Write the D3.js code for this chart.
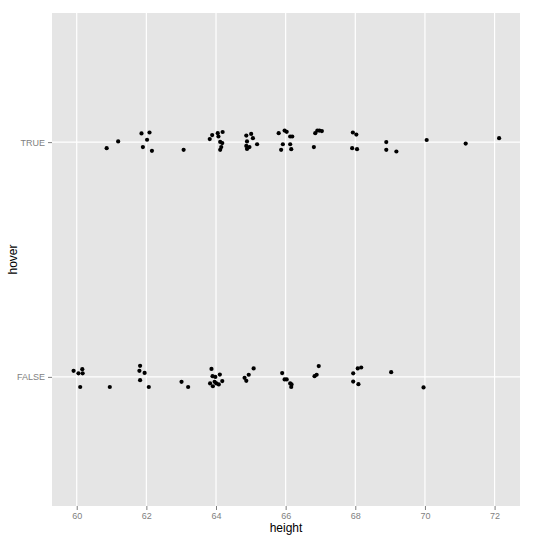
<!DOCTYPE html>
<html>
<head>
<meta charset="utf-8">
<script src="https://cdn.jsdelivr.net/npm/d3@7"></script>
<style>
  body { margin: 0; background: #fff; }
  text { font-family: "Liberation Sans", Arial, sans-serif; }
</style>
</head>
<body>
<div id="chart"></div>
<script>
// Jittered strip plot: height vs hover (TRUE/FALSE), ggplot2 grey theme.
// Jitter values are offsets in discrete-axis units.

const HOVER_LEVELS = ['FALSE', 'TRUE'];
const X_TICKS = [60, 62, 64, 66, 68, 70, 72];

const trueHeight = [
  60.86, 61.19, 61.86, 62.09, 62.02, 61.90, 62.16, 63.07, 63.82, 63.89,
  64.05, 64.19, 64.07, 64.12, 64.18, 64.15, 64.12, 64.87, 65.01, 65.06,
  64.89, 64.87, 64.96, 64.89, 65.18, 65.80, 65.97, 66.03, 66.13, 66.19,
  65.92, 65.87, 66.13, 66.16, 66.85, 66.91, 66.97, 67.04, 66.81, 67.93,
  68.03, 67.91, 68.05, 68.89, 68.89, 69.18, 70.05, 71.17, 72.13,
];
const trueJitter = [
  -0.026, 0.003, 0.037, 0.041, 0.010, -0.021, -0.037, -0.033, 0.013, 0.030,
  0.038, 0.043, 0.024, 0.001, -0.004, -0.021, -0.033, 0.028, 0.035, 0.017,
  0.003, -0.016, -0.021, -0.029, -0.009, 0.038, 0.049, 0.044, 0.024, 0.024,
  -0.009, -0.033, -0.009, -0.030, 0.038, 0.049, 0.049, 0.047, -0.021, 0.041,
  0.032, -0.026, -0.030, 0.000, -0.033, -0.040, 0.009, -0.006, 0.017,
];

const falseHeight = [
  59.91, 60.05, 60.16, 60.17, 60.10, 60.95, 61.82, 61.80, 61.95, 61.82,
  62.07, 63.01, 63.20, 63.87, 63.90, 63.98, 64.11, 63.83, 63.91, 64.01,
  64.08, 64.18, 63.96, 64.82, 64.94, 64.87, 65.08, 65.90, 65.97, 66.03,
  66.13, 66.16, 66.17, 66.95, 66.83, 66.89, 67.94, 68.07, 68.17, 67.94,
  68.09, 69.03, 69.96,
];
const falseJitter = [
  0.026, 0.015, 0.033, 0.015, -0.043, -0.043, 0.047, 0.026, 0.017, -0.014,
  -0.043, -0.021, -0.043, 0.034, 0.003, 0.000, 0.010, -0.028, -0.040, -0.028,
  -0.032, -0.018, -0.021, -0.004, 0.009, -0.017, 0.036, 0.016, -0.011, -0.011,
  -0.028, -0.043, -0.032, 0.046, 0.003, 0.009, 0.015, 0.036, 0.040, -0.020,
  -0.031, 0.020, -0.045,
];

const W = 540, H = 540;
const margin = { top: 13, right: 20, bottom: 34, left: 52 };
const innerW = W - margin.left - margin.right;
const innerH = H - margin.top - margin.bottom;

const svg = d3.select('#chart').append('svg').attr('width', W).attr('height', H);
const g = svg.append('g').attr('transform', `translate(${margin.left},${margin.top})`);

const x = d3.scaleLinear().domain([59.29, 72.73]).range([0, innerW]);
// discrete axis: level index 1..2, jitter added as fractional offset
const y = d3.scaleLinear().domain([0.45, 2.55]).range([innerH, 0]);
const levelPos = (lvl) => HOVER_LEVELS.indexOf(lvl) + 1;

const points = [
  ...trueHeight.map((h, i) => ({ h, yv: levelPos('TRUE') + trueJitter[i] })),
  ...falseHeight.map((h, i) => ({ h, yv: levelPos('FALSE') + falseJitter[i] })),
];

g.append('rect').attr('width', innerW).attr('height', innerH).attr('fill', '#e5e5e5');

g.selectAll('line.vgrid')
  .data(X_TICKS)
  .join('line')
  .attr('class', 'vgrid')
  .attr('x1', (d) => x(d)).attr('x2', (d) => x(d))
  .attr('y1', 0).attr('y2', innerH)
  .attr('stroke', '#fff').attr('stroke-width', 1.2);

g.selectAll('line.hgrid')
  .data(HOVER_LEVELS)
  .join('line')
  .attr('class', 'hgrid')
  .attr('x1', 0).attr('x2', innerW)
  .attr('y1', (d) => y(levelPos(d))).attr('y2', (d) => y(levelPos(d)))
  .attr('stroke', '#fff').attr('stroke-width', 1.2);

g.selectAll('circle.pt')
  .data(points)
  .join('circle')
  .attr('class', 'pt')
  .attr('cx', (d) => x(d.h))
  .attr('cy', (d) => y(d.yv))
  .attr('r', 2.1)
  .attr('fill', '#000');

// axes, ggplot style: grey ticks and labels, no domain line
const xAxis = g.append('g')
  .attr('transform', `translate(0,${innerH})`)
  .call(d3.axisBottom(x).tickValues(X_TICKS).tickSize(4).tickPadding(3).tickFormat(d3.format('d')));
const yAxis = g.append('g')
  .call(d3.axisLeft(y).tickValues(HOVER_LEVELS.map(levelPos)).tickSize(4).tickPadding(3)
    .tickFormat((d) => HOVER_LEVELS[d - 1]));

[xAxis, yAxis].forEach((ax) => {
  ax.select('.domain').remove();
  ax.selectAll('.tick line').attr('stroke', '#7f7f7f');
  ax.selectAll('.tick text').attr('fill', '#7f7f7f').style('font-size', '9px');
});

svg.append('text')
  .attr('x', margin.left + innerW / 2)
  .attr('y', H - 8)
  .attr('text-anchor', 'middle')
  .style('font-size', '12px')
  .text('height');

svg.append('text')
  .attr('transform', `translate(17,${margin.top + innerH / 2}) rotate(-90)`)
  .attr('text-anchor', 'middle')
  .style('font-size', '12px')
  .text('hover');
</script>
</body>
</html>
